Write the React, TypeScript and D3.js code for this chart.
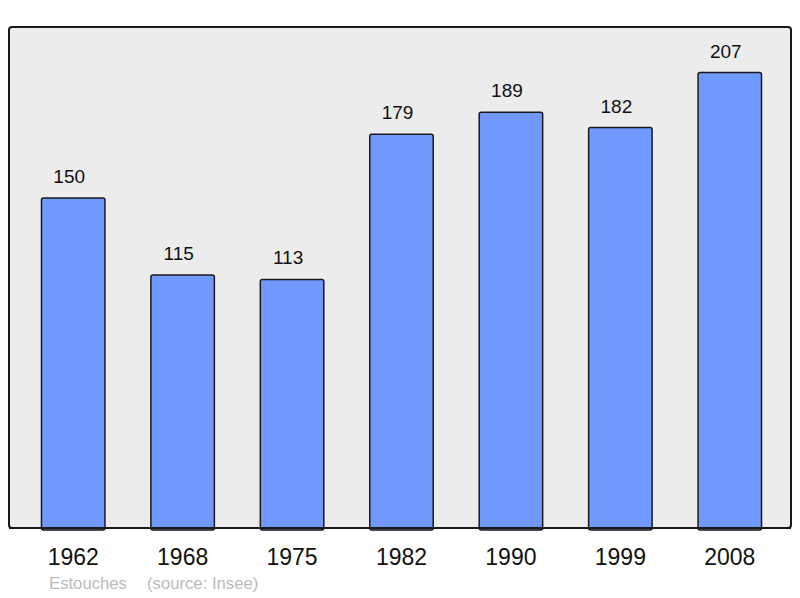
import { useEffect, useRef } from "react";
import * as d3 from "d3";

const years = ["1962", "1968", "1975", "1982", "1990", "1999", "2008"];
const population = [150, 115, 113, 179, 189, 182, 207];
const commune = "Estouches";
const source = "(source: Insee)";

export default function App() {
  const ref = useRef<SVGSVGElement>(null);

  useEffect(() => {
    const svg = d3.select(ref.current);
    svg.selectAll("*").remove();

    const frame = { left: 9, top: 27, right: 791, bottom: 528 };
    const font = "'Liberation Sans', Arial, sans-serif";

    // background frame
    svg
      .append("rect")
      .attr("x", frame.left)
      .attr("y", frame.top)
      .attr("width", frame.right - frame.left)
      .attr("height", frame.bottom - frame.top)
      .attr("rx", 3)
      .attr("fill", "#ececec")
      .attr("stroke", "#1a1a1a")
      .attr("stroke-width", 2);

    const x = d3
      .scaleBand<string>()
      .domain(years)
      .range([18.5, 784.5])
      .paddingInner(0.42)
      .paddingOuter(0.21);

    const y = d3
      .scaleLinear()
      .domain([0, (frame.bottom - frame.top) / 2.2])
      .range([frame.bottom, frame.top]);

    const data = years.map((yr, i) => ({ year: yr, value: population[i] }));

    svg
      .append("g")
      .selectAll("rect")
      .data(data)
      .enter()
      .append("rect")
      .attr("x", (d) => x(d.year) as number)
      .attr("y", (d) => y(d.value))
      .attr("width", x.bandwidth())
      .attr("height", (d) => frame.bottom - y(d.value) + 2)
      .attr("rx", 2)
      .attr("fill", "#7098ff")
      .attr("stroke", "#1a1a1a")
      .attr("stroke-width", 1.5);

    // bottom frame line over the bars
    svg
      .append("line")
      .attr("x1", frame.left)
      .attr("x2", frame.right)
      .attr("y1", frame.bottom)
      .attr("y2", frame.bottom)
      .attr("stroke", "#1a1a1a")
      .attr("stroke-width", 2);

    // value labels (sit a bit left of the bar centre)
    svg
      .append("g")
      .selectAll("text")
      .data(data)
      .enter()
      .append("text")
      .attr("x", (d) => (x(d.year) as number) + x.bandwidth() / 2 - 4)
      .attr("y", (d) => y(d.value) - 15)
      .attr("text-anchor", "middle")
      .attr("font-family", font)
      .attr("font-size", "19px")
      .attr("fill", "#111")
      .text((d) => d.value);

    // year labels
    svg
      .append("g")
      .selectAll("text")
      .data(years)
      .enter()
      .append("text")
      .attr("x", (d) => (x(d) as number) + x.bandwidth() / 2)
      .attr("y", 565)
      .attr("text-anchor", "middle")
      .attr("font-family", font)
      .attr("font-size", "23px")
      .attr("fill", "#111")
      .text((d) => d);

    svg
      .append("text")
      .attr("x", 49)
      .attr("y", 589)
      .attr("font-family", font)
      .attr("font-size", "16.7px")
      .attr("fill", "#bbbbbb")
      .text(commune);

    svg
      .append("text")
      .attr("x", 147)
      .attr("y", 589)
      .attr("font-family", font)
      .attr("font-size", "16.7px")
      .attr("fill", "#bbbbbb")
      .text(source);
  }, []);

  return (
    <svg
      ref={ref}
      width={800}
      height={598}
      style={{ position: "absolute", left: 0, top: 0, background: "#fff" }}
    />
  );
}
